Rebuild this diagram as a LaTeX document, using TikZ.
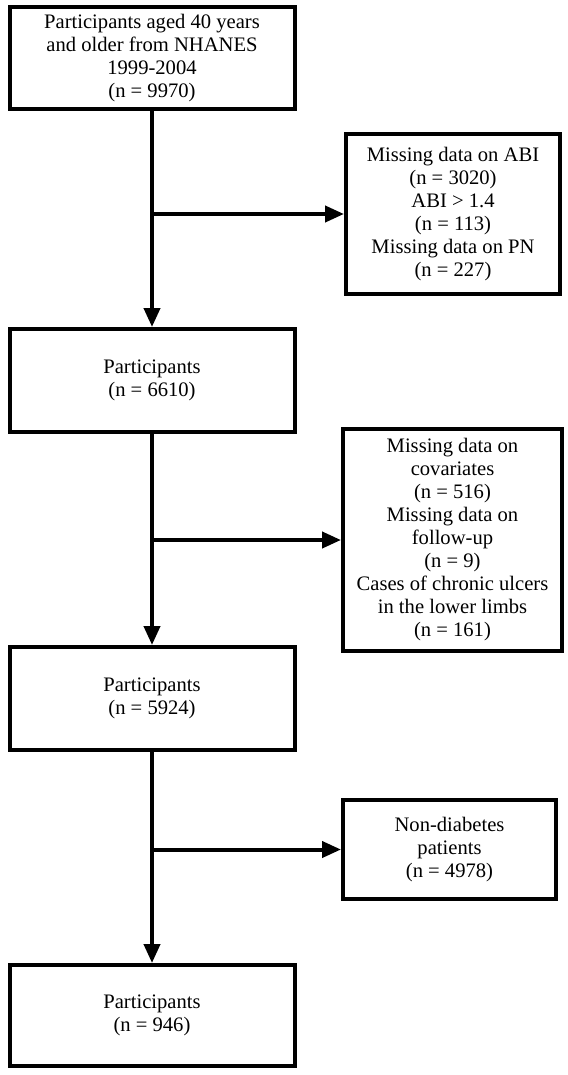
\documentclass[tikz,border=0pt]{standalone}
\usepackage{fontspec}
\setmainfont{Liberation Serif}
\usetikzlibrary{positioning,arrows.meta}

\tikzset{
  box/.style={draw, line width=2pt, align=center, inner sep=0pt,
    font=\fontsize{10.3}{11.5}\selectfont},
  mainbox/.style={box, minimum width=142.5pt, minimum height=51.5pt},
  flow/.style={line width=2pt, -{Triangle[length=9.5pt,width=8pt]}},
}

\begin{document}
\begin{tikzpicture}[x=0.5pt, y=-0.5pt]
  \useasboundingbox (0,0) rectangle (567,1075);
  % Define nodes
  \node[mainbox, minimum height=51pt] (all) at (152,58)
    {Participants aged 40 years\\and older from NHANES\\1999-2004\\(n = 9970)};
  \node[mainbox, below=108pt of all] (sel1) {Participants\\(n = 6610)};
  \node[mainbox, below=105.5pt of sel1] (sel2) {Participants\\(n = 5924)};
  \node[mainbox, below=105.5pt of sel2, minimum height=50.5pt] (final) {Participants\\(n = 946)};
  % Define exclusion boxes
  \node[box, minimum width=107pt, minimum height=80pt] (excl1) at (453,214)
    {Missing data on ABI\\(n = 3020)\\ABI > 1.4\\(n = 113)\\Missing data on PN\\(n = 227)};
  \node[box, minimum width=109.5pt, minimum height=111pt] (excl2) at (452.5,540)
    {Missing data on\\covariates\\(n = 516)\\Missing data on\\follow-up\\(n = 9)\\Cases of chronic ulcers\\in the lower limbs\\(n = 161)};
  \node[box, minimum width=106.5pt, minimum height=49.5pt] (excl3) at (449.5,849.5)
    {Non-diabetes\\patients\\(n = 4978)};
  % Define edges
  \draw[flow] (all) -- (sel1);
  \draw[flow] (sel1) -- (sel2);
  \draw[flow] (sel2) -- (final);
  \draw[flow] (all.south |- excl1.west) -- (excl1.west);
  \draw[flow] (sel1.south |- excl2.west) -- (excl2.west);
  \draw[flow] (sel2.south |- excl3.west) -- (excl3.west);
\end{tikzpicture}
\end{document}
